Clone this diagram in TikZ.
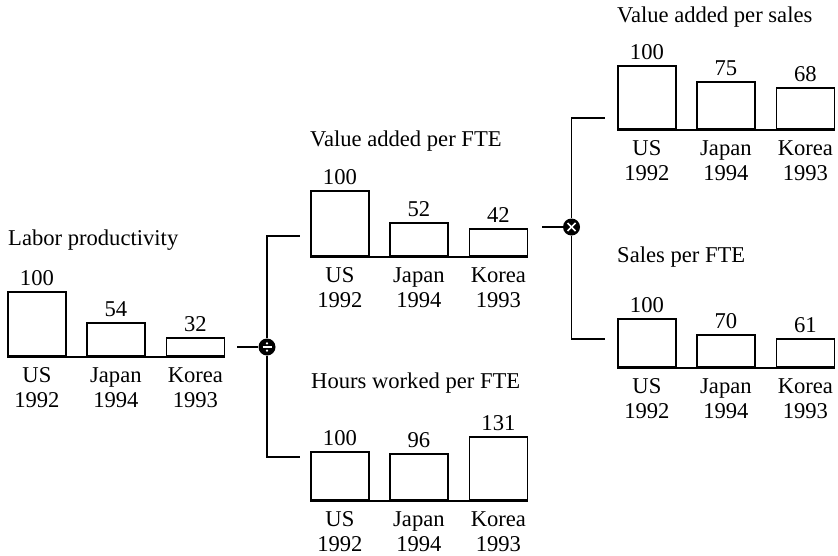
\documentclass[tikz,border=0pt]{standalone}
\usepackage{fontspec}
\setmainfont{Liberation Serif}
\usetikzlibrary{calc}
\tikzset{
  barbox/.style={draw=black, line width=1.8pt, minimum width=58pt, inner sep=0pt, anchor=south west},
  baseln/.style={line width=1.5pt},
  txt/.style={font=\fontsize{22.6}{24.5}\selectfont, inner sep=0pt},
  val/.style={txt, anchor=base},
  cat/.style={txt, anchor=base, align=center},
  ttl/.style={txt, anchor=base west},
  conn/.style={line width=1.6pt},
  opcirc/.style={circle, fill=black, minimum size=17pt, inner sep=0pt},
  opsym/.style={white, line width=1.5pt}
}
% name, left, base, h1, h2, h3, v1, v2, v3
\newcommand\mybarchart[9]{%
  \node[barbox, minimum height=#4pt] (#1a) at (#2,#3) {};
  \node[barbox, minimum height=#5pt] (#1b) at (#2+79,#3) {};
  \node[barbox, minimum height=#6pt] (#1c) at (#2+158.5,#3) {};
  \draw[baseln] (#1a.south west) -- (#1c.south east);
  \node[val] (#1av) at ([yshift=6pt]#1a.north) {#7};
  \node[val] (#1bv) at ([yshift=6pt]#1b.north) {#8};
  \node[val] (#1cv) at ([yshift=6pt]#1c.north) {#9};
  \node[cat] (#1al) at ([yshift=-50pt]#1a.south) {US\\1992};
  \node[cat] (#1bl) at ([yshift=-50pt]#1b.south) {Japan\\1994};
  \node[cat] (#1cl) at ([yshift=-50pt]#1c.south) {Korea\\1993};
}
\begin{document}
\begin{tikzpicture}[x=1pt,y=-1pt]
\useasboundingbox (0,0) rectangle (838,555);
\fill[white] (0,0) rectangle (838,555);

% charts
\mybarchart{lp}{7}{357}{64}{33}{18}{100}{54}{32}
\mybarchart{va}{310}{257}{65}{33}{27}{100}{52}{42}
\mybarchart{hw}{310}{501}{48}{46}{63}{100}{96}{131}
\mybarchart{vs}{617}{130}{63}{47}{41}{100}{75}{68}
\mybarchart{sf}{617}{368}{48}{32}{28}{100}{70}{61}

% titles
\node[ttl] (lpt) at (8,245) {Labor productivity};
\node[ttl] (vat) at (310,146) {Value added per FTE};
\node[ttl] (hwt) at (311,388) {Hours worked per FTE};
\node[ttl] (vst) at (617,22) {Value added per sales};
\node[ttl] (sft) at (617,262) {Sales per FTE};

% operators
\node[opcirc] (div) at (267,347) {};
\node[opcirc] (mul) at (571.5,227) {};
\draw[opsym] ([xshift=-4.5pt]div.center) -- ([xshift=4.5pt]div.center);
\fill[white] ([yshift=3.6pt]div.center) circle (1.2pt);
\fill[white] ([yshift=-3.6pt]div.center) circle (1.2pt);
\draw[opsym] ([shift={(-4pt,-4pt)}]mul.center) -- ([shift={(4pt,4pt)}]mul.center);
\draw[opsym] ([shift={(-4pt,4pt)}]mul.center) -- ([shift={(4pt,-4pt)}]mul.center);

% connector ends
\coordinate (lpout) at (237,347);
\coordinate (vain) at (300,236);
\coordinate (hwin) at (300,457);
\coordinate (vaout) at (542,227);
\coordinate (vsin) at (605,118);
\coordinate (sfin) at (605,339);

\draw[conn] (lpout) -- (div.west);
\draw[conn] (div.north) |- (vain);
\draw[conn] (div.south) |- (hwin);
\draw[conn] (vaout) -- (mul.west);
\draw[conn] (mul.north) |- (vsin);
\draw[conn] (mul.south) |- (sfin);
\end{tikzpicture}
\end{document}
